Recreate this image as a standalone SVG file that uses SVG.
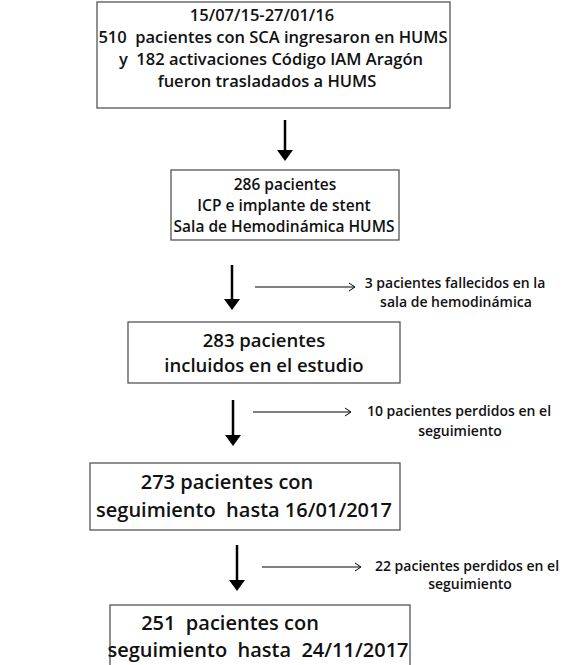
<svg xmlns="http://www.w3.org/2000/svg" width="579" height="665" viewBox="0 0 579 665">
<style>
.box{fill:#fff;stroke:#555;stroke-width:1.3}
.t{font-family:"Open Sans","Liberation Sans",sans-serif;font-weight:600;fill:#111;text-anchor:middle;white-space:pre}
.s16{font-size:16.5px}
.s15{font-size:15.5px}
.s19{font-size:18.5px}
.s20{font-size:20px}
.s11{font-size:14px}
.big{stroke:#000;stroke-width:2.5;fill:none}
.thin{stroke:#000;stroke-width:1;fill:none}
</style>
<g id="n1">
<rect class="box" x="97" y="2" width="353" height="106"/>
<text class="t s16" x="262" y="21">15/07/15-27/01/16</text>
<text class="t s16" x="273" y="43">510  pacientes con SCA ingresaron en HUMS</text>
<text class="t s16" x="271" y="65">y  182 activaciones Código IAM Aragón</text>
<text class="t s16" x="267" y="87">fueron trasladados a HUMS</text>
</g>
<g id="n2">
<rect class="box" x="171" y="170" width="228" height="70"/>
<text class="t s15" x="285" y="190">286 pacientes</text>
<text class="t s15" x="284" y="211">ICP e implante de stent</text>
<text class="t s15" x="284" y="232">Sala de Hemodinámica HUMS</text>
</g>
<g id="n3">
<rect class="box" x="128" y="322" width="272" height="61"/>
<text class="t s19" x="264" y="347">283 pacientes</text>
<text class="t s19" x="264" y="372">incluidos en el estudio</text>
</g>
<g id="n4">
<rect class="box" x="90" y="463" width="310" height="67"/>
<text class="t s20" x="227" y="489">273 pacientes con</text>
<text class="t s20" x="244" y="517">seguimiento  hasta 16/01/2017</text>
</g>
<g id="n5">
<rect class="box" x="110" y="605" width="300" height="62"/>
<text class="t s20" x="230" y="630">251  pacientes con</text>
<text class="t s20" x="258" y="657">seguimiento  hasta  24/11/2017</text>
</g>
<g id="labels">
<text class="t s11" x="455" y="288">3 pacientes fallecidos en la</text>
<text class="t s11" x="456" y="307">sala de hemodinámica</text>
<text class="t s11" x="459" y="416">10 pacientes perdidos en el</text>
<text class="t s11" x="460" y="436">seguimiento</text>
<text class="t s11" x="467" y="571">22 pacientes perdidos en el</text>
<text class="t s11" x="470" y="589">seguimiento</text>
</g>
<g id="connectors">
<path class="big" d="M285 120 V157"/>
<path d="M277 150 L285 161 L293 150 Z" fill="#000"/>
<path class="big" d="M232 265 V306"/>
<path d="M224 299 L232 310 L240 299 Z" fill="#000"/>
<path class="big" d="M233 400 V442"/>
<path d="M225 435 L233 446 L241 435 Z" fill="#000"/>
<path class="big" d="M237 545 V587"/>
<path d="M229 580 L237 591 L245 580 Z" fill="#000"/>
<path class="thin" d="M255 287 H354 M349 283 L355 287 L349 291"/>
<path class="thin" d="M253 412 H350 M345 408 L351 412 L345 416"/>
<path class="thin" d="M262 567 H360 M355 563 L361 567 L355 571"/>
</g>
</svg>
